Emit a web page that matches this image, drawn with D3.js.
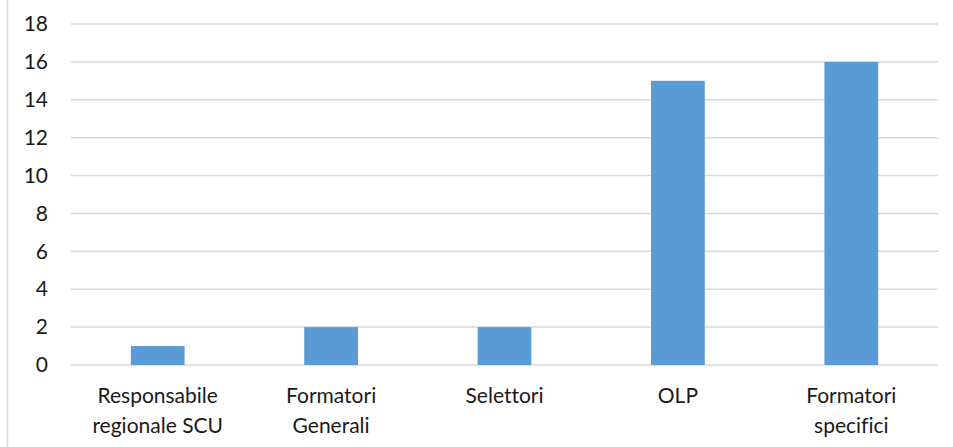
<!DOCTYPE html>
<html>
<head>
<meta charset="utf-8">
<script src="https://cdn.jsdelivr.net/npm/d3@7"></script>
<style>
  body { margin: 0; background: #fff; }
  text { font-family: Lato, "Open Sans", sans-serif; fill: #1a1a1a; font-variant-ligatures: none; }
</style>
</head>
<body>
<div id="chart"></div>
<script>
const categories = [
    ['Responsabile', 'regionale SCU'],
    ['Formatori', 'Generali'],
    ['Selettori'],
    ['OLP'],
    ['Formatori', 'specifici']
];
const values = [1, 2, 2, 15, 16];
const yTicks = [0, 2, 4, 6, 8, 10, 12, 14, 16, 18];

const width = 953;
const height = 447;
const margin = { top: 24, right: 15, bottom: 82, left: 71 };
const innerW = width - margin.left - margin.right;
const innerH = height - margin.top - margin.bottom;

const svg = d3.select('#chart')
    .append('svg')
    .attr('width', width)
    .attr('height', height);

// chart frame (only the left edge shows in the original)
svg.append('line')
    .attr('x1', 7.5).attr('x2', 7.5)
    .attr('y1', 0).attr('y2', height)
    .style('stroke', '#d9d9d9')
    .style('stroke-width', 1.5);

const g = svg.append('g')
    .attr('transform', `translate(${margin.left},${margin.top})`);

const keys = categories.map((c, i) => i);
const xScale = d3.scaleBand().domain(keys).range([0, innerW]).paddingInner(0.69).paddingOuter(0.345);
const yScale = d3.scaleLinear().domain([0, 18]).range([innerH, 0]);

// gridlines
g.selectAll('.grid')
    .data(yTicks)
    .enter()
    .append('line')
    .attr('class', 'grid')
    .attr('x1', 0)
    .attr('x2', innerW)
    .attr('y1', d => yScale(d))
    .attr('y2', d => yScale(d))
    .style('stroke', '#d9d9d9')
    .style('stroke-width', 1.5);

// bars
g.selectAll('.bar')
    .data(values)
    .enter()
    .append('rect')
    .attr('class', 'bar')
    .attr('x', (d, i) => xScale(i))
    .attr('y', d => yScale(d))
    .attr('width', xScale.bandwidth())
    .attr('height', d => innerH - yScale(d))
    .attr('fill', '#5b9bd5');

// y axis
const yAxis = d3.axisLeft(yScale).tickValues(yTicks).tickSize(0).tickPadding(23);
const yAxisGroup = g.append('g').call(yAxis);
yAxisGroup.select('.domain').remove();
yAxisGroup.selectAll('text')
    .style('font-size', '21px')
    .style('fill', '#1a1a1a');

// x axis
const xAxis = d3.axisBottom(xScale).tickSize(0).tickFormat('');
const xAxisGroup = g.append('g')
    .attr('transform', `translate(0, ${innerH})`)
    .call(xAxis);
xAxisGroup.select('.domain').remove();

xAxisGroup.selectAll('.tick')
    .each(function (d) {
        const lines = categories[d];
        const t = d3.select(this).append('text')
            .attr('text-anchor', 'middle')
            .style('font-size', '21px');
        lines.forEach((line, j) => {
            t.append('tspan')
                .attr('x', 0)
                .attr('y', 38 + j * 30)
                .text(line);
        });
    });
</script>
</body>
</html>
